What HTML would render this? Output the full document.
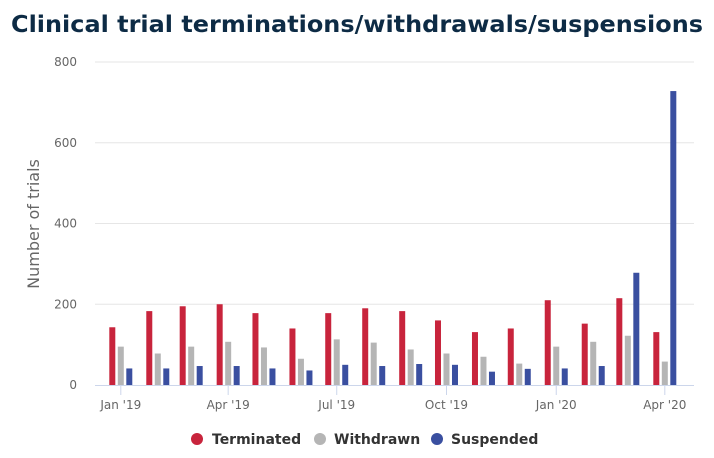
<!DOCTYPE html>
<html><head><meta charset="utf-8"><style>
html,body{margin:0;padding:0;background:#fff;width:714px;height:458px;overflow:hidden}
svg{display:block}
</style></head><body>
<svg id="c" width="714" height="458" xmlns="http://www.w3.org/2000/svg" font-family="DejaVu Sans, Verdana, sans-serif">
<text x="357" y="32" text-anchor="middle" font-size="22" font-weight="bold" fill="#0d2b45" textLength="692" lengthAdjust="spacingAndGlyphs" style="font-size:23.5px">Clinical trial terminations/withdrawals/suspensions</text>
<g id="grid"></g>
<text transform="translate(39,224) rotate(-90)" text-anchor="middle" font-size="16" fill="#666">Number of trials</text>
<g id="bars"></g>
<g font-size="14" font-weight="bold" fill="#333">
<circle cx="197" cy="439" r="6" fill="#c8243c"/><text x="212" y="444">Terminated</text>
<circle cx="320" cy="439" r="6" fill="#b5b5b5"/><text x="334" y="444">Withdrawn</text>
<circle cx="437" cy="439" r="6" fill="#3a4fa0"/><text x="451" y="444">Suspended</text>
</g>
</svg>
<script>
var NS="http://www.w3.org/2000/svg";
function el(p,t,a,txt){var e=document.createElementNS(NS,t);for(var k in a)e.setAttribute(k,a[k]);if(txt)e.textContent=txt;p.appendChild(e);return e;}
var g=document.getElementById('grid'),b=document.getElementById('bars');
var y0=385,s=323/800;
[200,400,600,800].forEach(function(v){var y=y0-v*s;el(g,'line',{x1:95,x2:694,y1:y,y2:y,stroke:'#e6e6e6','stroke-width':1});});
[0,200,400,600,800].forEach(function(v){el(g,'text',{x:77,y:y0-v*s+4,'text-anchor':'end','font-size':12,fill:'#666'},String(v));});
el(g,'line',{x1:95,x2:694,y1:385.5,y2:385.5,stroke:'#ccd6eb','stroke-width':1});
var days=[0,31,59,90,120,151,181,212,243,273,304,334,365,396,425,456];
var R=[143,183,195,200,178,140,178,190,183,160,131,140,210,152,215,131];
var G=[95,78,95,107,93,65,113,105,88,78,70,53,95,107,122,58];
var B=[41,41,47,47,41,36,50,47,52,50,33,40,41,47,278,728];
var labels={0:"Jan '19",3:"Apr '19",6:"Jul '19",9:"Oct '19",12:"Jan '20",15:"Apr '20"};
days.forEach(function(d,i){
 var x=109.3+d*1.193;
 [[R,'#c8243c',0],[G,'#b5b5b5',8.5],[B,'#3a4fa0',17]].forEach(function(q){
  var h=q[0][i]*s;el(b,'rect',{x:x+q[2],y:y0-h,width:6,height:h,fill:q[1]});
 });
 if(labels[i]!==undefined){var cx=x+11.5;
  el(b,'line',{x1:cx,x2:cx,y1:386,y2:395,stroke:'#ccd6eb'});
  el(b,'text',{x:cx,y:409,'text-anchor':'middle','font-size':12,fill:'#666'},labels[i]);}
});
</script>
</body></html>
